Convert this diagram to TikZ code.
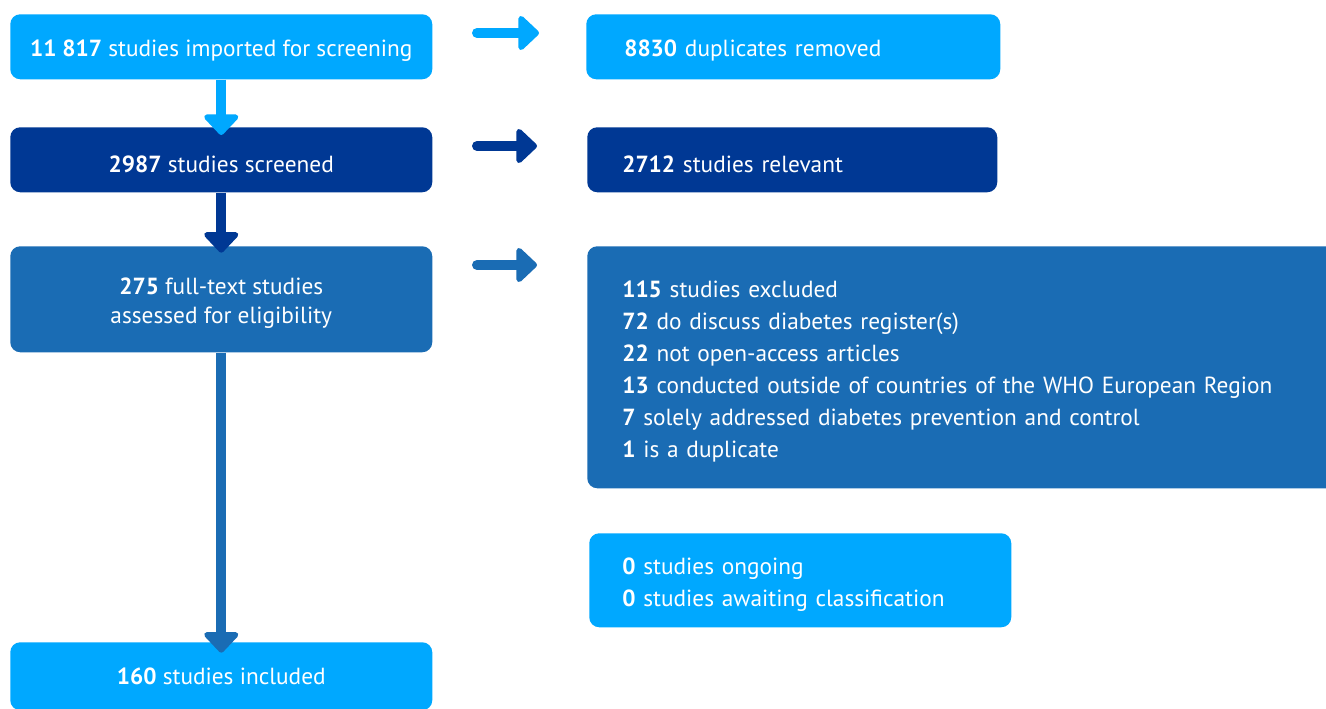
\documentclass[tikz,border=0pt]{standalone}
\usepackage{fontspec}
\setmainfont{PT Sans}
\usetikzlibrary{arrows.meta, positioning}
\definecolor{flowlight}{RGB}{0,168,255}
\definecolor{flownavy}{RGB}{0,56,148}
\definecolor{flowmid}{RGB}{26,108,180}
% taller first line, pushes the text a little down in its box
\newcommand{\toplead}{\rule{0pt}{18.6pt}}

\begin{document}
\begin{tikzpicture}[
    x=0.75pt, y=-0.75pt,
    every node/.style={font=\fontsize{17.5pt}{24pt}\selectfont, text=white},
    stage/.style={
        rectangle, rounded corners=7.5pt, anchor=north west,
        minimum width=316.5pt, inner sep=0pt, align=center,
        execute at begin node=\toplead
    },
    side/.style={
        rectangle, rounded corners=7.5pt, anchor=north west,
        inner xsep=26.25pt, inner ysep=0pt, align=left,
        execute at begin node=\toplead
    },
    flow/.style={line width=7.5pt,
        -{Triangle[width=30pt, length=16.5pt, round]}},
    hflow/.style={flow, line cap=round},
]

\useasboundingbox (0,0) rectangle (1326,709);
\clip (0,0) rectangle (1326,709);

% ---- Main column ----
\node[stage, fill=flowlight, minimum height=48.75pt] (imp) at (10,14)
      {\textbf{11 817} studies imported for screening};
\node[stage, fill=flownavy, minimum height=48.75pt] (scr) at (10,127)
      {\textbf{2987} studies screened};
\node[stage, fill=flowmid, minimum height=79.5pt,
      font=\fontsize{17.5pt}{22pt}\selectfont] (full) at (10,246)
      {\toplead\textbf{275} full-text studies\\assessed for eligibility};
\node[stage, fill=flowlight, minimum height=51pt] (inc) at (10,642)
      {\textbf{160} studies included\rule[-6pt]{0pt}{6pt}};

% ---- Side boxes ----
\node[side, fill=flowlight, minimum height=48.75pt, text width=253.5pt,
      inner xsep=28.5pt] (dup) at (586,14)
      {\textbf{8830} duplicates removed};
\node[side, fill=flownavy, minimum height=48.75pt, text width=255pt] (rel) at (587,127)
      {\textbf{2712} studies relevant};
\node[side, fill=flowmid, minimum height=181.5pt, text width=517.5pt] (exc) at (587,246)
      {\textbf{115} studies excluded\\
       \textbf{72} do discuss diabetes register(s)\\
       \textbf{22} not open-access articles\\
       \textbf{13} conducted outside of countries of the WHO European Region\\
       \textbf{7} solely addressed diabetes prevention and control\\
       \textbf{1} is a duplicate};
\node[side, fill=flowlight, minimum height=70.5pt, text width=267pt,
      inner xsep=24.75pt] (ong) at (589,533)
      {\textbf{0} studies ongoing\\
       \textbf{0} studies awaiting classification};

% ---- Arrows down the column ----
\draw[flow, flowlight, shorten >=-6pt] (imp) -- (scr);
\draw[flow, flownavy, shorten >=-5pt] (scr) -- (full);
\draw[flow, flowmid, shorten >=-8pt] (full) -- (inc);

% ---- Arrows to the side ----
\coordinate (d1) at (477,33);  \coordinate (d2) at (539,33);
\coordinate (r1) at (477,146); \coordinate (r2) at (537,146);
\coordinate (e1) at (477,265); \coordinate (e2) at (537,265);
\draw[hflow, flowlight] (d1) -- (d2);
\draw[hflow, flownavy] (r1) -- (r2);
\draw[hflow, flowmid] (e1) -- (e2);

\end{tikzpicture}
\end{document}
